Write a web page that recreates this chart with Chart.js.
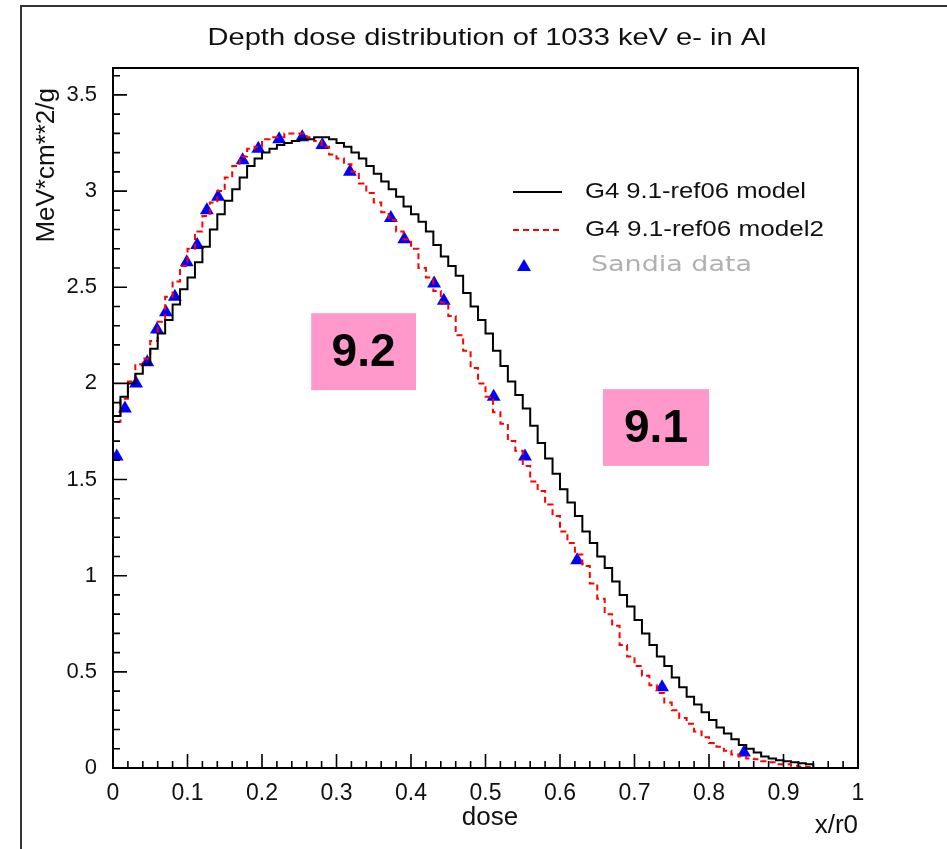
<!DOCTYPE html>
<html><head><meta charset="utf-8">
<script src="https://cdn.jsdelivr.net/npm/chart.js@4.4.1/dist/chart.umd.min.js"></script>
<style>html,body{margin:0;padding:0;background:#fff;overflow:hidden}canvas{display:block}</style>
</head><body>
<canvas id="c" width="947" height="849"></canvas>
<script>
const chartTitle = "Depth dose distribution of 1033 keV e- in Al";
const yAxisTitle = "MeV*cm**2/g";
const xAxisTitle = "x/r0";
const extraLabel = "dose";
const seriesNames = ["G4 9.1-ref06 model", "G4 9.1-ref06 model2", "Sandia data"];
const xTickValues = [0, 0.1, 0.2, 0.3, 0.4, 0.5, 0.6, 0.7, 0.8, 0.9, 1];
const xTickLabels = ["0", "0.1", "0.2", "0.3", "0.4", "0.5", "0.6", "0.7", "0.8", "0.9", "1"];
const yTickValues = [0, 0.5, 1, 1.5, 2, 2.5, 3, 3.5];
const yTickLabels = ["0", "0.5", "1", "1.5", "2", "2.5", "3", "3.5"];
const binWidth = 0.01;
// G4 9.1-ref06 model (black histogram), bins of 0.01 from 0
const model91 = [
 1.83,1.93,2.00,2.05,2.10,2.18,2.26,2.33,2.41,2.49,
 2.55,2.63,2.71,2.80,2.88,2.95,3.01,3.07,3.13,3.17,
 3.20,3.22,3.24,3.25,3.26,3.27,3.27,3.28,3.28,3.27,
 3.25,3.23,3.20,3.17,3.13,3.09,3.05,3.01,2.97,2.92,
 2.88,2.84,2.79,2.72,2.66,2.61,2.56,2.47,2.40,2.33,
 2.26,2.17,2.09,2.01,1.94,1.87,1.78,1.69,1.61,1.53,
 1.45,1.38,1.31,1.23,1.17,1.10,1.04,0.97,0.90,0.84,
 0.77,0.70,0.64,0.58,0.53,0.47,0.42,0.37,0.33,0.29,
 0.25,0.21,0.18,0.15,0.12,0.10,0.08,0.06,0.05,0.04,
 0.035,0.03,0.025,0.02
];
// G4 9.1-ref06 model2 (red dashed histogram)
const model92 = [
 1.80,1.92,2.01,2.10,2.13,2.22,2.32,2.45,2.53,2.61,
 2.70,2.79,2.87,2.94,3.00,3.07,3.13,3.18,3.22,3.23,
 3.27,3.28,3.28,3.30,3.30,3.30,3.28,3.26,3.23,3.19,
 3.17,3.14,3.10,3.04,2.99,2.94,2.89,2.85,2.79,2.75,
 2.70,2.60,2.55,2.48,2.42,2.35,2.25,2.17,2.08,2.00,
 1.93,1.85,1.79,1.70,1.65,1.57,1.49,1.44,1.37,1.31,
 1.23,1.17,1.11,1.05,0.96,0.88,0.80,0.74,0.64,0.58,
 0.53,0.48,0.43,0.39,0.34,0.30,0.26,0.23,0.19,0.16,
 0.13,0.11,0.09,0.07,0.06,0.05,0.045,0.035,0.03,0.02,
 0.02,0.012,0.008,0.005,0,0,0,0,0,0
];
// Sandia data points
const sandiaX = [0.005,0.016,0.031,0.046,0.059,0.071,0.083,0.099,0.113,0.126,0.141,0.174,0.195,0.223,0.254,0.281,0.318,0.373,0.391,0.431,0.444,0.511,0.553,0.623,0.737,0.847];
const sandiaY = [1.62,1.87,2.00,2.11,2.28,2.37,2.45,2.63,2.72,2.90,2.97,3.16,3.22,3.27,3.28,3.24,3.10,2.86,2.75,2.52,2.43,1.93,1.62,1.08,0.42,0.08];
const annotationTexts = ["9.2", "9.1"];

function histPoints(vals){
  const pts=[{x:0,y:0}];
  vals.forEach((v,i)=>pts.push({x:(i+1)*binWidth,y:v}));
  pts.push({x:vals.length*binWidth,y:0});
  return pts;
}

const FONT = "'Liberation Sans', Arial, Helvetica, sans-serif";

const decor = {
  id:'decor',
  afterDraw(chart){
    const ctx=chart.ctx, ca=chart.chartArea, xs=chart.scales.x, ys=chart.scales.y;
    ctx.save();
    // outer page frame
    ctx.strokeStyle='#333'; ctx.lineWidth=2;
    ctx.beginPath(); ctx.moveTo(21,849); ctx.lineTo(21,6); ctx.lineTo(947,6); ctx.stroke();
    // plot frame
    ctx.strokeStyle='#000'; ctx.lineWidth=2;
    ctx.strokeRect(ca.left,ca.top,ca.right-ca.left,ca.bottom-ca.top);
    // inner ticks
    ctx.lineWidth=1.6;
    ctx.beginPath();
    for(let k=0;k<=50;k++){
      const px=xs.getPixelForValue(k*0.02), len=(k%5===0)?14:7;
      ctx.moveTo(px,ca.bottom); ctx.lineTo(px,ca.bottom-len);
    }
    for(let k=0;k*0.1<=ys.max+1e-9;k++){
      const py=ys.getPixelForValue(k*0.1), len=(k%5===0)?14:7;
      ctx.moveTo(ca.left,py); ctx.lineTo(ca.left+len,py);
    }
    ctx.stroke();
    // title
    ctx.fillStyle='#111'; ctx.textAlign='center'; ctx.textBaseline='middle';
    ctx.font='24px '+FONT;
    drawStretched(ctx, chartTitle, 487, 38, 559);
    // y axis title
    ctx.save();
    ctx.translate(47, 88); ctx.rotate(-Math.PI/2);
    ctx.textAlign='right'; ctx.font='26px '+FONT;
    ctx.fillText(yAxisTitle, 0, 0);
    ctx.restore();
    // x axis title & extra label
    ctx.font='26px '+FONT; ctx.textAlign='right';
    ctx.fillText(xAxisTitle, 858, 826);
    ctx.textAlign='center';
    ctx.fillText(extraLabel, 490, 818);
    // legend
    const lx1=513, lx2=562, tx=585;
    const rows=[192,230,265];
    ctx.lineWidth=2; ctx.strokeStyle='#000'; ctx.setLineDash([]);
    ctx.beginPath(); ctx.moveTo(lx1,rows[0]); ctx.lineTo(lx2,rows[0]); ctx.stroke();
    ctx.strokeStyle='#ff0000'; ctx.setLineDash([6,4]);
    ctx.beginPath(); ctx.moveTo(lx1,rows[1]); ctx.lineTo(lx2,rows[1]); ctx.stroke();
    ctx.setLineDash([]);
    ctx.fillStyle='#0000ff';
    ctx.beginPath(); ctx.moveTo(524,rows[2]-6); ctx.lineTo(531,rows[2]+6); ctx.lineTo(517,rows[2]+6); ctx.closePath(); ctx.fill();
    ctx.textAlign='left'; ctx.fillStyle='#111'; ctx.font='22px '+FONT;
    drawStretchedLeft(ctx, seriesNames[0], tx, rows[0], 221);
    drawStretchedLeft(ctx, seriesNames[1], tx, rows[1], 239);
    ctx.fillStyle='#b0b0b0'; ctx.font='22px DejaVu Sans, sans-serif';
    drawStretchedLeft(ctx, seriesNames[2], 591, rows[2], 161);
    // pink annotation boxes (data coordinates)
    const boxes=[{x0:0.266,x1:0.4067,y0:1.965,y1:2.365},{x0:0.6577,x1:0.80,y0:1.571,y1:1.970}];
    boxes.forEach((b,i)=>{
      const X0=xs.getPixelForValue(b.x0), X1=xs.getPixelForValue(b.x1);
      const Y0=ys.getPixelForValue(b.y1), Y1=ys.getPixelForValue(b.y0);
      ctx.fillStyle='#ff99cc'; ctx.fillRect(X0,Y0,X1-X0,Y1-Y0);
      ctx.fillStyle='#000'; ctx.font='bold 46px '+FONT; ctx.textAlign='center'; ctx.textBaseline='middle';
      ctx.fillText(annotationTexts[i], (X0+X1)/2, (Y0+Y1)/2+2);
    });
    ctx.restore();
  }
};
function drawStretched(ctx, t, cx, cy, w){
  const m=ctx.measureText(t).width; const s=w/m;
  ctx.save(); ctx.translate(cx,cy); ctx.scale(s,1); ctx.fillText(t,0,0); ctx.restore();
}
function drawStretchedLeft(ctx, t, x, cy, w){
  const m=ctx.measureText(t).width; const s=w/m;
  ctx.save(); ctx.translate(x,cy); ctx.scale(s,1); ctx.textBaseline='middle'; ctx.fillText(t,0,0); ctx.restore();
}

new Chart(document.getElementById('c'), {
  type:'line',
  data:{datasets:[
    {label:seriesNames[0], data:histPoints(model91), stepped:'after', borderColor:'#000', borderWidth:2, pointRadius:0, fill:false},
    {label:seriesNames[1], data:histPoints(model92), stepped:'after', borderColor:'#ff0000', borderWidth:2, borderDash:[6,4], pointRadius:0, fill:false},
    {type:'scatter', label:seriesNames[2], data:sandiaX.map((x,i)=>({x:x,y:sandiaY[i]})), showLine:false, pointStyle:'triangle', pointRadius:8, backgroundColor:'#0000ff', borderColor:'#0000ff', borderWidth:0}
  ]},
  options:{
    responsive:false, animation:false, devicePixelRatio:1,
    layout:{padding:{top:68,right:89,left:0,bottom:0}},
    plugins:{legend:{display:false}, title:{display:false}, tooltip:{enabled:false}},
    scales:{
      x:{type:'linear', min:0, max:1,
         afterBuildTicks:s=>{s.ticks=xTickValues.map(v=>({value:v}));},
         afterFit:s=>{s.height=81;},
         ticks:{callback:(v,i)=>xTickLabels[i], autoSkip:false, maxRotation:0, color:'#111', font:{family:FONT,size:23}, padding:12},
         grid:{display:false, drawTicks:false}, border:{display:false}},
      y:{type:'linear', min:0, max:3.64,
         afterBuildTicks:s=>{s.ticks=yTickValues.map(v=>({value:v}));},
         afterFit:s=>{s.width=113;},
         ticks:{callback:(v,i)=>yTickLabels[i], autoSkip:false, color:'#111', font:{family:FONT,size:22}, padding:16},
         grid:{display:false, drawTicks:false}, border:{display:false}}
    }
  },
  plugins:[decor]
});
</script>
</body></html>
